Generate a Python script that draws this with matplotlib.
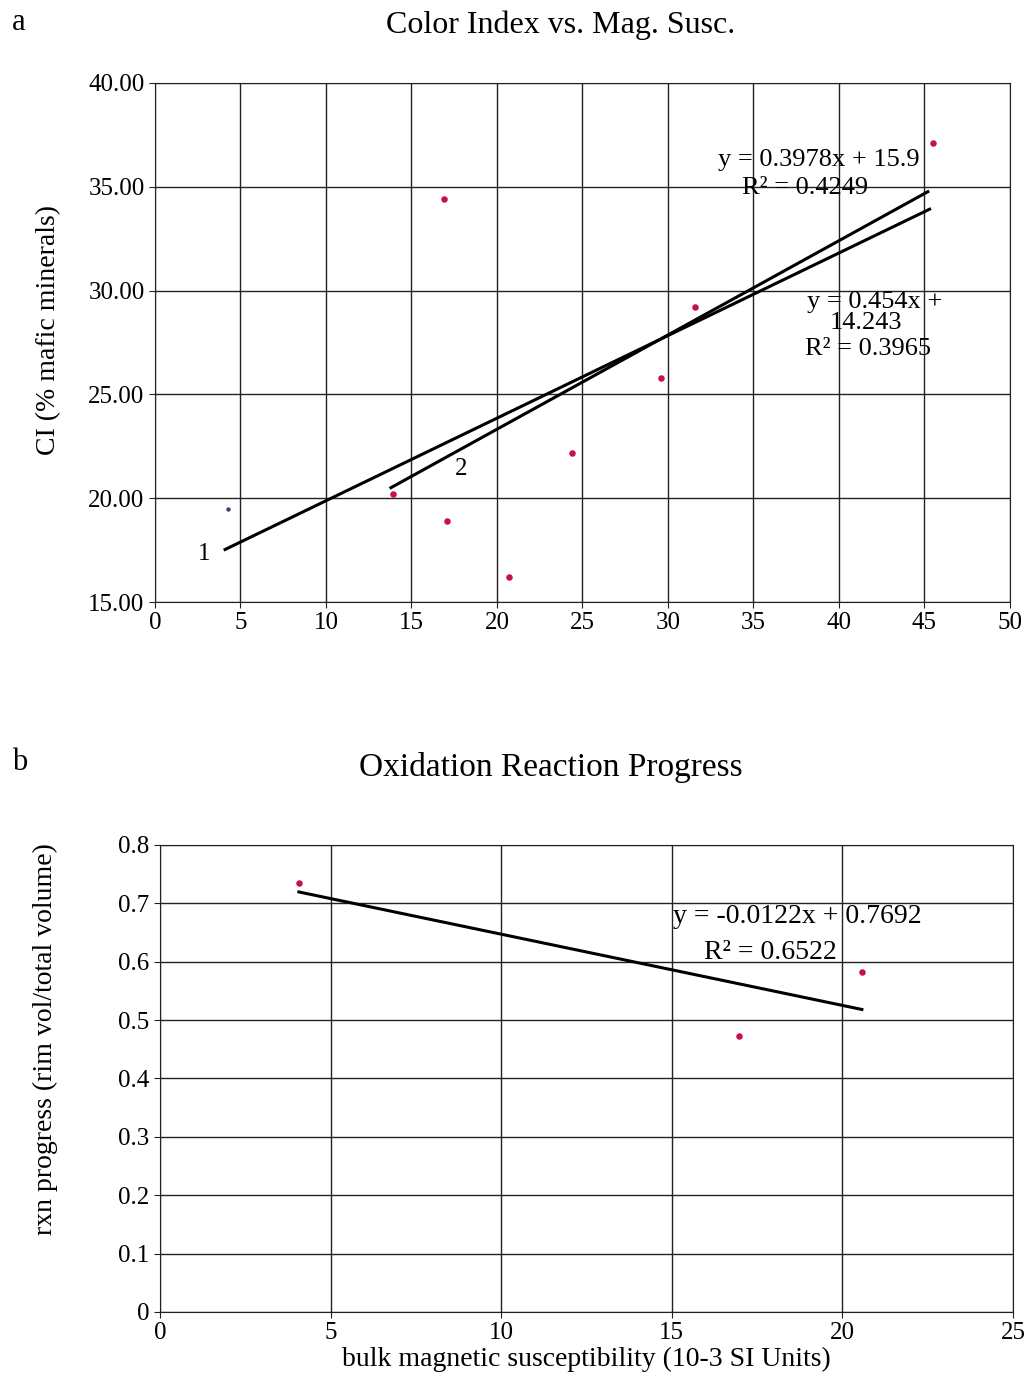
import matplotlib
matplotlib.use('Agg')
import matplotlib.pyplot as plt
import numpy as np

plt.rcParams['font.family'] = ['Liberation Serif', 'DejaVu Serif']

# panel a data: magnetic susceptibility vs colour index
mag_a = [4.3, 13.9, 16.9, 17.1, 20.7, 24.4, 29.6, 31.6, 45.5]
ci_a = [19.5, 20.2, 34.4, 18.9, 16.2, 22.2, 25.8, 29.2, 37.1]
fit1 = (0.3978, 15.9)     # all points
fit2 = (0.454, 14.243)    # without the first point
a_xticks = list(range(0, 51, 5))
a_yticks = [15, 20, 25, 30, 35, 40]

# panel b data: reaction progress
mag_b = [4.07, 16.97, 20.57]
rxn_b = [0.735, 0.473, 0.582]
fit_b = (-0.0122, 0.7692)
b_xticks = list(range(0, 26, 5))
b_yticks = [0, 0.1, 0.2, 0.3, 0.4, 0.5, 0.6, 0.7, 0.8]

red = '#c8104a'

fig = plt.figure(figsize=(10.29, 13.78), dpi=100)

# ---- panel a ----
ax = fig.add_axes([0.1506, 0.5631, 0.8309, 0.3767])
ax.set_xlim(0, 50)
ax.set_ylim(15, 40)
ax.set_xticks(a_xticks)
ax.set_yticks(a_yticks)
ax.set_yticklabels(['%.2f' % v for v in a_yticks])
ax.grid(True, color='#222222', lw=1.0)
ax.set_axisbelow(True)
ax.scatter(mag_a[1:], ci_a[1:], s=22, color=red, zorder=3, lw=0)
ax.scatter(mag_a[:1], ci_a[:1], s=10, color='#334466', zorder=3, lw=0)
x1 = np.array([mag_a[0] - 0.2, max(mag_a) - 0.2])
ax.plot(x1, fit1[0] * x1 + fit1[1], color='black', lw=2.2, zorder=4)
x2 = np.array([mag_a[1] - 0.1, max(mag_a) - 0.3])
ax.plot(x2, fit2[0] * x2 + fit2[1], color='black', lw=2.2, zorder=4)
ax.text(2.9, 17.3, '1', fontsize=18, ha='center', va='center')
ax.text(17.9, 21.4, '2', fontsize=18, ha='center', va='center')
ax.text(38.8, 36.3, 'y = 0.3978x + 15.9', fontsize=19, ha='center', va='center')
ax.text(38.0, 34.95, 'R² = 0.4249', fontsize=19, ha='center', va='center')
ax.text(42.1, 29.45, 'y = 0.454x +', fontsize=19, ha='center', va='center')
ax.text(41.6, 28.45, '14.243', fontsize=19, ha='center', va='center')
ax.text(41.7, 27.2, 'R² = 0.3965', fontsize=19, ha='center', va='center')
ax.set_ylabel('CI (% mafic minerals)', fontsize=20)
ax.yaxis.set_label_coords(-0.110, 0.524)
ax.tick_params(labelsize=18, length=4, color='#222222')
for s in ax.spines.values():
    s.set_color('#222222')
fig.text(0.545, 0.982, 'Color Index vs. Mag. Susc.', fontsize=23, ha='center', va='center')
fig.text(0.012, 0.984, 'a', fontsize=22, va='center')

# ---- panel b ----
bx = fig.add_axes([0.1555, 0.0479, 0.8290, 0.3389])
bx.set_xlim(0, 25)
bx.set_ylim(0, 0.8)
bx.set_xticks(b_xticks)
bx.set_yticks(b_yticks)
bx.set_yticklabels(['0' if v == 0 else '%g' % v for v in b_yticks])
bx.grid(True, color='#222222', lw=1.0)
bx.set_axisbelow(True)
bx.scatter(mag_b, rxn_b, s=22, color=red, zorder=3, lw=0)
xb = np.array([min(mag_b), max(mag_b)])
bx.plot(xb, fit_b[0] * xb + fit_b[1], color='black', lw=2.2, zorder=4)
bx.text(18.67, 0.678, 'y = -0.0122x + 0.7692', fontsize=20, ha='center', va='center')
bx.text(17.9, 0.615, 'R² = 0.6522', fontsize=20, ha='center', va='center')
bx.set_ylabel('rxn progress (rim vol/total volume)', fontsize=20)
bx.yaxis.set_label_coords(-0.119, 0.585)
bx.set_xlabel('bulk magnetic susceptibility (10-3 SI Units)', fontsize=20, labelpad=2)
bx.tick_params(labelsize=18, length=4, color='#222222')
for s in bx.spines.values():
    s.set_color('#222222')
fig.text(0.535, 0.443, 'Oxidation Reaction Progress', fontsize=24, ha='center', va='center')
fig.text(0.012, 0.447, 'b', fontsize=22, va='center')

fig.savefig('out.png', dpi=100)
